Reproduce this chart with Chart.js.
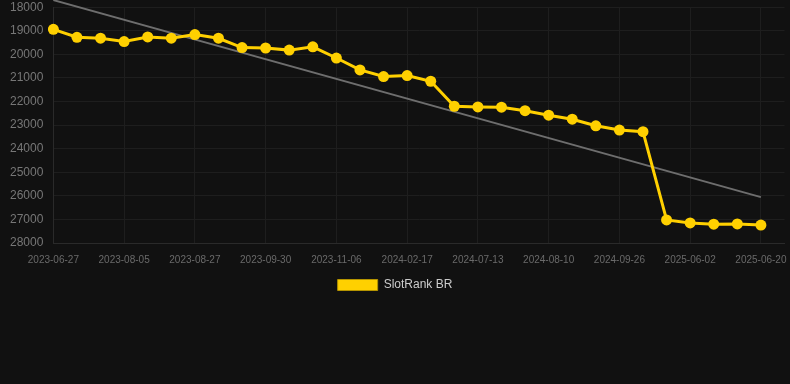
<!DOCTYPE html>
<html>
<head>
<meta charset="utf-8">
<script src="https://cdn.jsdelivr.net/npm/chart.js@4.4.0/dist/chart.umd.min.js"></script>
<style>
  html, body { margin: 0; padding: 0; background: #111111; }
  #wrap { width: 790px; height: 301px; }
</style>
</head>
<body>
<div id="wrap"><canvas id="rank-chart"></canvas></div>
<script>
var dateLabels = ['2023-06-27', '2023-07-10', '2023-07-22', '2023-08-05', '2023-08-12', '2023-08-20',
  '2023-08-27', '2023-09-05', '2023-09-18', '2023-09-30', '2023-10-12', '2023-10-25',
  '2023-11-06', '2023-12-02', '2024-01-10', '2024-02-17', '2024-04-05', '2024-05-28',
  '2024-07-13', '2024-07-22', '2024-08-01', '2024-08-10', '2024-08-26', '2024-09-10',
  '2024-09-26', '2024-10-15', '2025-05-20', '2025-06-02', '2025-06-08', '2025-06-14',
  '2025-06-20', '2025-06-26'];

var rankValues = [18940, 19275, 19316, 19457, 19260, 19316, 19163, 19316, 19710, 19730,
  19820, 19680, 20155, 20660, 20940, 20900, 21140, 22200, 22230, 22240,
  22390, 22580, 22750, 23030, 23210, 23280, 27020, 27150, 27200, 27190, 27240, null];

// trend line: only start and end
var trendValues = [17700, null, null, null, null, null, null, null, null, null,
  null, null, null, null, null, null, null, null, null, null,
  null, null, null, null, null, null, null, null, null, null, 26055, null];

var yTicks = { min: 18000, max: 28000, step: 1000 };

var tickFont = { family: 'Liberation Sans, Arial, sans-serif', size: 12 };

var chartContext = document.getElementById('rank-chart');
var rankChart = new Chart(chartContext, {
  type: 'line',
  data: {
    labels: dateLabels,
    datasets: [
      {
        label: 'SlotRank BR',
        data: rankValues,
        borderColor: '#ffd000',
        backgroundColor: '#ffd000',
        borderWidth: 3,
        pointRadius: 5.5,
        pointHoverRadius: 5.5,
        pointBackgroundColor: '#ffd000',
        pointBorderWidth: 0,
        tension: 0
      },
      {
        label: 'trend',
        data: trendValues,
        borderColor: '#6e6e6e',
        borderWidth: 2,
        pointRadius: 0,
        spanGaps: true,
        clip: false
      }
    ]
  },
  options: {
    responsive: true,
    maintainAspectRatio: false,
    animation: false,
    layout: { padding: 0 },
    plugins: {
      tooltip: { enabled: false },
      legend: {
        position: 'bottom',
        labels: {
          color: '#cccccc',
          font: tickFont,
          boxWidth: 40,
          boxHeight: 11,
          padding: 13,
          generateLabels: function (chart) {
            var items = Chart.defaults.plugins.legend.labels.generateLabels(chart);
            items = items.filter(function (item) { return item.text !== 'trend'; });
            items.forEach(function (item) {
              item.lineWidth = 1;
              item.strokeStyle = '#b59400';
            });
            return items;
          }
        }
      }
    },
    scales: {
      x: {
        grid: {
          tickLength: 11,
          tickColor: 'rgba(0,0,0,0)',
          color: function (ctx) {
            return ctx.index % 3 === 0 && ctx.index < 31 ? '#1e1e1e' : 'rgba(0,0,0,0)';
          }
        },
        border: { color: '#2a2a2a' },
        ticks: {
          color: '#6a6a6a',
          font: { family: 'Liberation Sans, Arial, sans-serif', size: 10 },
          autoSkip: false,
          maxRotation: 0,
          padding: 0,
          callback: function (value, index) {
            return index % 3 === 0 && index < 31 ? this.getLabelForValue(value) : '';
          }
        }
      },
      y: {
        reverse: true,
        min: yTicks.min,
        max: yTicks.max,
        afterFit: function (scale) { scale.width += 10; },
        grid: { color: '#1e1e1e', tickLength: 10, tickColor: 'rgba(0,0,0,0)' },
        border: { color: '#2a2a2a' },
        ticks: {
          stepSize: yTicks.step,
          color: '#777777',
          padding: 0,
          font: tickFont,
          callback: function (value) { return String(value); }
        }
      }
    }
  }
});
</script>
</body>
</html>
